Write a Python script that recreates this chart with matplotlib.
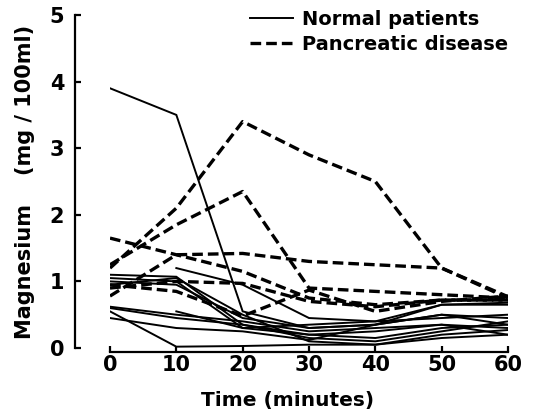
import matplotlib
matplotlib.use("Agg")
import matplotlib.pyplot as plt
import numpy as np

# sampling times (minutes)
times = [0, 10, 20, 30, 40, 50, 60]

# normal patients (solid), nan = no reading
normal = [
    [3.9, 3.5, 0.55, 0.3, 0.35, 0.65, 0.65],
    [1.1, 1.07, 0.35, 0.2, 0.15, 0.3, 0.35],
    [np.nan, 1.2, 0.95, 0.45, 0.4, 0.65, 0.68],
    [1.0, 0.95, 0.45, 0.3, 0.35, 0.5, 0.45],
    [0.62, 0.5, 0.4, 0.25, 0.3, 0.35, 0.3],
    [0.55, 0.02, 0.03, 0.05, 0.05, 0.2, 0.27],
    [0.6, 0.45, 0.35, 0.15, 0.1, 0.25, 0.4],
    [np.nan, 0.55, 0.3, 0.2, 0.25, 0.35, 0.2],
    [0.95, 1.05, 0.5, 0.1, 0.05, 0.15, 0.2],
    [1.05, 1.0, 0.3, 0.35, 0.4, 0.45, 0.5],
    [0.45, 0.3, 0.25, 0.12, 0.35, 0.5, 0.35],
]

# pancreatic disease (dashed)
pancreatic = [
    [1.2, 2.1, 3.4, 2.9, 2.5, 1.2, 0.77],
    [1.25, 1.85, 2.35, 0.9, 0.85, 0.8, 0.75],
    [1.65, 1.4, 1.15, 0.75, 0.65, 0.72, 0.72],
    [0.78, 1.4, 1.42, 1.3, 1.25, 1.2, 0.75],
    [0.9, 1.0, 0.97, 0.7, 0.62, 0.72, 0.72],
    [0.95, 0.85, 0.48, 0.87, 0.55, 0.7, 0.78],
]

plt.rcParams['font.weight'] = 'bold'

fig = plt.figure(figsize=(5.38, 4.19), dpi=100)
ax = fig.add_axes([110/538, 1 - 348/419, 398/538, 333/419])

for vals in normal:
    ax.plot(times, vals, color='black', lw=1.4, solid_joinstyle='miter')
for vals in pancreatic:
    ax.plot(times, vals, color='black', lw=2.4, linestyle=(0, (3.2, 1.5)))

ax.set_xlim(0, 60)
ax.set_ylim(0, 5)
ax.set_xticks(times)
ax.set_yticks([0, 1, 2, 3, 4, 5])

for s in ['top', 'right']:
    ax.spines[s].set_visible(False)
ax.spines['left'].set_position(('outward', 25))
ax.spines['bottom'].set_position(('outward', 3))
ax.spines['left'].set_linewidth(1.6)
ax.spines['bottom'].set_linewidth(1.6)

ax.tick_params(axis='both', direction='in', length=4, width=1.6, labelsize=15)
ax.tick_params(axis='y', pad=8)
ax.tick_params(axis='x', pad=2)

fig.text(288/538, 1 - 400/419, 'Time (minutes)', ha='center', va='center',
         fontsize=14.5, fontweight='bold')
fig.text(25/538, 1 - 182/419, 'Magnesium    (mg / 100ml)', ha='center', va='center',
         rotation=90, fontsize=15, fontweight='bold')

h1, = ax.plot([], [], color='black', lw=1.4)
h2, = ax.plot([], [], color='black', lw=2.4, linestyle=(0, (3.2, 1.5)))
ax.legend([h1, h2], ['Normal patients', 'Pancreatic disease'], frameon=False,
          prop={'size': 14, 'weight': 'bold'}, loc='upper left',
          bbox_to_anchor=(250/538, 1 - 10/419),
          bbox_transform=fig.transFigure, handlelength=2.2, handletextpad=0.5,
          borderpad=0, borderaxespad=0, labelspacing=0.3)

fig.savefig('out.png', dpi=100)
